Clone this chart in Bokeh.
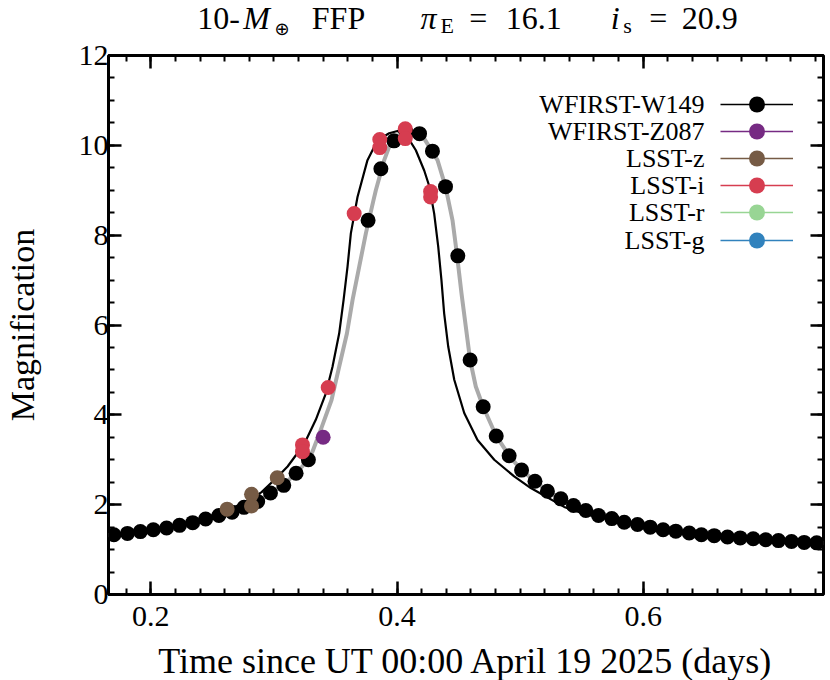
import numpy as np
from bokeh.plotting import figure
from bokeh.layouts import column
from bokeh.models import Range1d, LinearAxis, SingleIntervalTicker, Legend, LegendItem, Label
from bokeh.core.properties import value
from bokeh.embed import file_html
from bokeh.resources import INLINE

# ---------------- data ----------------
w149_t = [0.1700, 0.1810, 0.1915, 0.2020, 0.2128, 0.2233, 0.2340, 0.2445, 0.2553, 0.2660,
          0.2757, 0.2868, 0.2972, 0.3080, 0.3180, 0.3280,
          0.3765, 0.3869, 0.3975, 0.4078, 0.4183, 0.4288, 0.4394, 0.4494, 0.4594, 0.4700,
          0.4806, 0.4911, 0.5012,
          0.5121, 0.5222, 0.5331, 0.5434, 0.5534, 0.5637, 0.5745, 0.5846, 0.5954, 0.6057,
          0.6162, 0.6265, 0.6374, 0.6473, 0.6577, 0.6685, 0.6788, 0.6894, 0.6996, 0.7099,
          0.7205, 0.7308, 0.7410]
w149_A = [1.33, 1.36, 1.40, 1.44, 1.48, 1.54, 1.60, 1.68, 1.76, 1.83,
          1.94, 2.07, 2.26, 2.43, 2.70, 3.00,
          8.33, 9.48, 10.10, 10.28, 10.26, 9.87, 9.08, 7.54, 5.22, 4.18,
          3.53, 3.09, 2.77,
          2.52, 2.30, 2.13, 1.98, 1.87, 1.76, 1.69, 1.61, 1.56, 1.50,
          1.44, 1.41, 1.37, 1.33, 1.31, 1.28, 1.26, 1.24, 1.22, 1.20,
          1.18, 1.16, 1.15]

z087_t = [0.3400]
z087_A = [3.50]

lsst_z_t = [0.2620, 0.2818, 0.2818, 0.3027]
lsst_z_A = [1.90, 2.23, 1.97, 2.60]

lsst_i_t = [0.3232, 0.3232, 0.3441, 0.3652, 0.3860, 0.3860, 0.4067, 0.4067, 0.4273, 0.4273]
lsst_i_A = [3.33, 3.18, 4.61, 8.48, 10.13, 9.95, 10.37, 10.15, 8.97, 8.85]

lsst_r_t = []
lsst_r_A = []
lsst_g_t = []
lsst_g_A = []

# model seen from WFIRST (grey, thick)
wfirst_model_t = [0.1656, 0.1700, 0.1810, 0.1915, 0.2020, 0.2128, 0.2233, 0.2340, 0.2445, 0.2553,
                  0.2660, 0.2757, 0.2868, 0.2972, 0.3080, 0.3180, 0.3280, 0.3313, 0.3381, 0.3468,
                  0.3530, 0.3593, 0.3639, 0.3693, 0.3747, 0.3809, 0.3828, 0.3896, 0.3950, 0.3990,
                  0.4031, 0.4080, 0.4126, 0.4170, 0.4221, 0.4329, 0.4394, 0.4451, 0.4486, 0.4524,
                  0.4559, 0.4594, 0.4640, 0.4700, 0.4806, 0.4911, 0.5012, 0.5121, 0.5222, 0.5331,
                  0.5434, 0.5534, 0.5637, 0.5745, 0.5846, 0.5954, 0.6057, 0.6162, 0.6265, 0.6374,
                  0.6473, 0.6577, 0.6685, 0.6788, 0.6894, 0.6996, 0.7099, 0.7205, 0.7308, 0.7410,
                  0.7465]
wfirst_model_A = [1.32, 1.33, 1.36, 1.40, 1.44, 1.49, 1.54, 1.60, 1.67, 1.75,
                  1.84, 1.94, 2.08, 2.25, 2.45, 2.70, 3.00, 3.18, 3.67, 4.33,
                  5.07, 5.81, 6.56, 7.30, 8.04, 8.78, 9.00, 9.67, 10.07, 10.18,
                  10.26, 10.30, 10.30, 10.25, 10.15, 9.67, 9.08, 8.33, 7.59, 6.70,
                  5.96, 5.22, 4.63, 4.18, 3.53, 3.09, 2.77, 2.52, 2.31, 2.13,
                  1.98, 1.87, 1.77, 1.69, 1.61, 1.56, 1.50, 1.45, 1.41, 1.37,
                  1.34, 1.31, 1.28, 1.26, 1.24, 1.22, 1.20, 1.18, 1.16, 1.15,
                  1.145]

# model seen from Earth (black, thin)
earth_model_t = [0.1656, 0.1800, 0.2000, 0.2200, 0.2400, 0.2600, 0.2800, 0.2900, 0.3030, 0.3111,
                 0.3192, 0.3246, 0.3340, 0.3422, 0.3476, 0.3530, 0.3566, 0.3598, 0.3625, 0.3679,
                 0.3760, 0.3841, 0.3936, 0.4004, 0.4085, 0.4153, 0.4221, 0.4261, 0.4302, 0.4335,
                 0.4361, 0.4383, 0.4416, 0.4465, 0.4546, 0.4654, 0.4790, 0.4952, 0.5087, 0.5358,
                 0.5534, 0.5800, 0.6200, 0.6600, 0.7000, 0.7465]
earth_model_A = [1.33, 1.37, 1.45, 1.55, 1.68, 1.85, 2.10, 2.28, 2.62, 2.85,
                 3.15, 3.35, 3.89, 4.48, 5.07, 5.81, 6.56, 7.30, 8.04, 8.85,
                 9.67, 10.11, 10.27, 10.32, 10.19, 9.89, 9.44, 9.10, 8.48, 7.74,
                 7.00, 6.26, 5.52, 4.78, 4.04, 3.44, 3.00, 2.63, 2.37, 1.95,
                 1.78, 1.62, 1.45, 1.33, 1.24, 1.16]

series_names = ["WFIRST-W149", "WFIRST-Z087", "LSST-z", "LSST-i", "LSST-r", "LSST-g"]
series_colors = ["#000000", "#762a83", "#765b45", "#d63d50", "#98d594", "#3182bd"]
series_t = [w149_t, z087_t, lsst_z_t, lsst_i_t, lsst_r_t, lsst_g_t]
series_A = [w149_A, z087_A, lsst_z_A, lsst_i_A, lsst_r_A, lsst_g_A]

x_label = "Time since UT 00:00 April 19 2025 (days)"
y_label = "Magnification"

x_lim = (0.1656, 0.7465)
y_lim = (0, 12)

# ---------------- layout constants ----------------
FONT = "Liberation Serif"
BL, BR = 103, 2                 # left / right borders shared by all strips
FRAME_W, FRAME_H = 715, 539
TITLE_H = 38
XLAB_H = 40


def strip(h):
    f = figure(frame_width=FRAME_W, frame_height=h, x_range=Range1d(0, 1), y_range=Range1d(0, 1),
               output_backend="svg", toolbar_location=None,
               min_border_left=BL, min_border_right=BR, min_border_top=0, min_border_bottom=0,
               x_axis_location=None, y_axis_location=None)
    f.outline_line_color = None
    f.grid.visible = False
    f.background_fill_color = "white"
    f.border_fill_color = "white"
    return f


# ---------------- title strip ----------------
# (text, x centre, y of text middle from strip bottom, size, style, font)
tf = strip(TITLE_H)
title_parts = [
    ("10-", 110.1, 20.1, "32px", "normal", FONT),
    ("M", 148.0, 20.1, "32px", "italic", FONT),
    ("\u2295", 173.6, 10.0, "18px", "normal", "DejaVu Sans"),
    ("FFP", 230.0, 20.1, "32px", "normal", FONT),
    ("\u03c0", 320.0, 20.1, "32px", "italic", FONT),
    ("E", 338.8, 13.0, "22px", "normal", FONT),
    ("=", 369.8, 20.1, "32px", "normal", FONT),
    ("16.1", 425.3, 20.1, "32px", "normal", FONT),
    ("i", 506.6, 20.1, "32px", "italic", FONT),
    ("s", 519.0, 13.0, "22px", "normal", FONT),
    ("=", 549.7, 20.1, "32px", "normal", FONT),
    ("20.9", 601.3, 20.1, "32px", "normal", FONT),
]
for txt, x, y, size, style, font in title_parts:
    tf.add_layout(Label(x=x, y=y, x_units="screen", y_units="screen", text=txt,
                        text_align="center", text_baseline="middle", text_font=font,
                        text_font_size=size, text_font_style=style, text_color="black"))

# ---------------- main figure ----------------
p = figure(frame_width=FRAME_W, frame_height=FRAME_H,
           x_range=Range1d(*x_lim), y_range=Range1d(*y_lim),
           output_backend="svg", toolbar_location=None,
           min_border_left=BL, min_border_right=BR, min_border_top=17, min_border_bottom=46)
p.grid.visible = False
p.outline_line_color = "black"
p.outline_line_width = 3
p.background_fill_color = "white"
p.border_fill_color = "white"

xt = SingleIntervalTicker(interval=0.2, num_minor_ticks=10)
yt = SingleIntervalTicker(interval=2, num_minor_ticks=4)


def style_axis(ax, ticker, labels=True):
    ax.ticker = ticker
    ax.axis_line_color = None
    ax.major_tick_in = 13
    ax.major_tick_out = 0
    ax.minor_tick_in = 6
    ax.minor_tick_out = 0
    ax.major_tick_line_width = 2.5
    ax.minor_tick_line_width = 2
    ax.major_tick_line_color = "black"
    ax.minor_tick_line_color = "black"
    if labels:
        ax.major_label_text_font = FONT
        ax.major_label_text_font_size = "30px"
        ax.major_label_text_color = "black"
        ax.axis_label_text_font = FONT
        ax.axis_label_text_font_size = "34px"
        ax.axis_label_text_font_style = "normal"
        ax.axis_label_text_color = "black"
    else:
        ax.major_label_text_font_size = "1px"
        ax.major_label_text_color = None
        ax.major_label_standoff = 0


xa = p.xaxis[0]
style_axis(xa, xt)
xa.major_label_standoff = 12

ya = p.yaxis[0]
style_axis(ya, yt)
ya.axis_label = y_label
ya.major_label_standoff = 0
ya.axis_label_standoff = 35

top_ax = LinearAxis()
style_axis(top_ax, xt, labels=False)
p.add_layout(top_ax, "above")
right_ax = LinearAxis()
style_axis(right_ax, yt, labels=False)
p.add_layout(right_ax, "right")

# model curves
p.line(wfirst_model_t, wfirst_model_A, line_color="#aaaaaa", line_width=4, line_join="round")
p.line(earth_model_t, earth_model_A, line_color="black", line_width=2.2, line_join="round")

# data points
for t, A, c in zip(series_t, series_A, series_colors):
    if len(t):
        p.scatter(t, A, marker="circle", size=15, fill_color=c, line_color=None)

# legend: one Legend per entry (glyph sample), names as right-aligned labels to their left
ROW = 27.1
GH = 40
FIRST_ROW = FRAME_H - 49          # centre of first row, measured up from the frame bottom
for i, (name, c) in enumerate(zip(series_names, series_colors)):
    lr = p.line(np.array([np.nan]), np.array([np.nan]), line_color=c, line_width=1.7)
    sr = p.scatter(np.array([np.nan]), np.array([np.nan]), marker="circle", size=15,
                   fill_color=c, line_color=None)
    row_y = FIRST_ROW - ROW * i
    leg = Legend(items=[LegendItem(label=value(" "), renderers=[lr, sr])],
                 location=(612, row_y - GH / 2), orientation="vertical",
                 glyph_width=73, glyph_height=GH, spacing=0, padding=0, margin=0,
                 label_standoff=0, label_width=0, label_height=0, label_text_font_size="1px",
                 label_text_color=None, background_fill_alpha=0, border_line_alpha=0)
    p.add_layout(leg)
    p.add_layout(Label(x=596, y=row_y, x_units="screen", y_units="screen",
                       text=name, text_align="right", text_baseline="middle", text_font=FONT,
                       text_font_size="26px", text_color="black"))

# ---------------- x-label strip ----------------
xf = strip(XLAB_H)
xf.add_layout(Label(x=FRAME_W / 2, y=20, x_units="screen", y_units="screen", text=x_label,
                    text_align="center", text_baseline="middle", text_font=FONT,
                    text_font_size="36px", text_color="black"))

layout = column(tf, p, xf, spacing=0)
open("out.html", "w").write(file_html(layout, INLINE))
